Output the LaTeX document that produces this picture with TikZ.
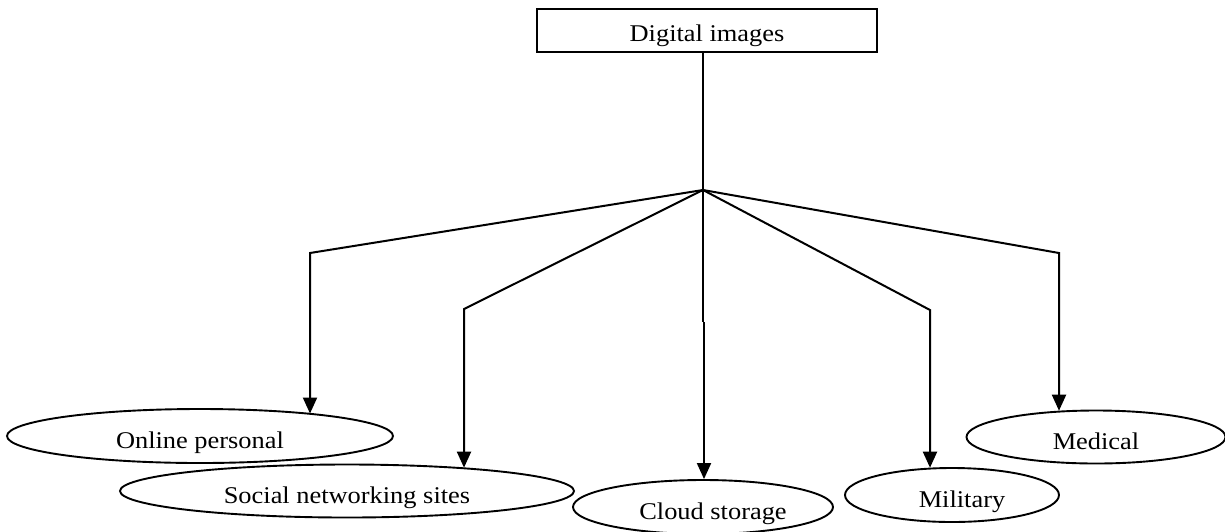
\documentclass[tikz,border=0pt]{standalone}
\usepackage{fontspec}
\setmainfont{Liberation Serif}[FakeStretch=1.1]
\usepackage{tikz}
\usetikzlibrary{shapes.geometric}
\usetikzlibrary{arrows.meta}
\tikzstyle{branchLine}=[line width=2pt]
\tikzstyle{branchArrow}=[line width=2pt, -{Triangle[length=16pt,width=14pt]}]
\tikzstyle{useEllipse}=[ellipse, draw, line width=1.9pt, inner sep=0pt, text height=24pt, text depth=0pt, font=\fontsize{24}{28}\selectfont]

\begin{document}
\begin{tikzpicture}[x=1pt, y=-1pt]
  \useasboundingbox (0,0) rectangle (1225,531);

  % Nodes
  \node [draw, line width=2pt, minimum width=340pt, minimum height=43pt, inner sep=0pt, text height=33pt, text depth=10pt, font=\fontsize{24}{28}\selectfont] (digital) at (707,30) {Digital images};

  \node [useEllipse, minimum width=386pt, minimum height=54pt] (online) at (200,436) {Online personal};
  \node [useEllipse, minimum width=454pt, minimum height=53pt] (social) at (347,491) {Social networking sites};
  \node [useEllipse, minimum width=260pt, minimum height=54pt] (cloud) at (703,507) {\hspace*{20pt}Cloud storage};
  \node [useEllipse, minimum width=214pt, minimum height=54pt] (military) at (952,495) {\hspace*{20pt}Military};
  \node [useEllipse, minimum width=259pt, minimum height=53pt] (medical) at (1096,437) {Medical};

  \coordinate (hub) at (703,190);
  \coordinate (onlineBend) at (310,253);
  \coordinate (socialBend) at (464,309);
  \coordinate (cloudJog) at (703,322);
  \coordinate (militaryBend) at (930,310);
  \coordinate (medicalBend) at (1059,253);

  % Branches
  \draw[branchLine] (hub |- digital.south) -- (hub);
  \draw[branchArrow] (hub) -- (onlineBend) -- (onlineBend |- online.11);
  \draw[branchArrow] (hub) -- (socialBend) -- (socialBend |- social.11);
  \draw[branchLine] (hub) -- (cloudJog);
  \draw[branchArrow] ([xshift=1pt]cloudJog) -- ([xshift=1pt]cloudJog |- cloud.88);
  \draw[branchArrow] (hub) -- (militaryBend) -- (militaryBend |- military.130);
  \draw[branchArrow] (hub) -- (medicalBend) -- (medicalBend |- medical.145);

\end{tikzpicture}
\end{document}
